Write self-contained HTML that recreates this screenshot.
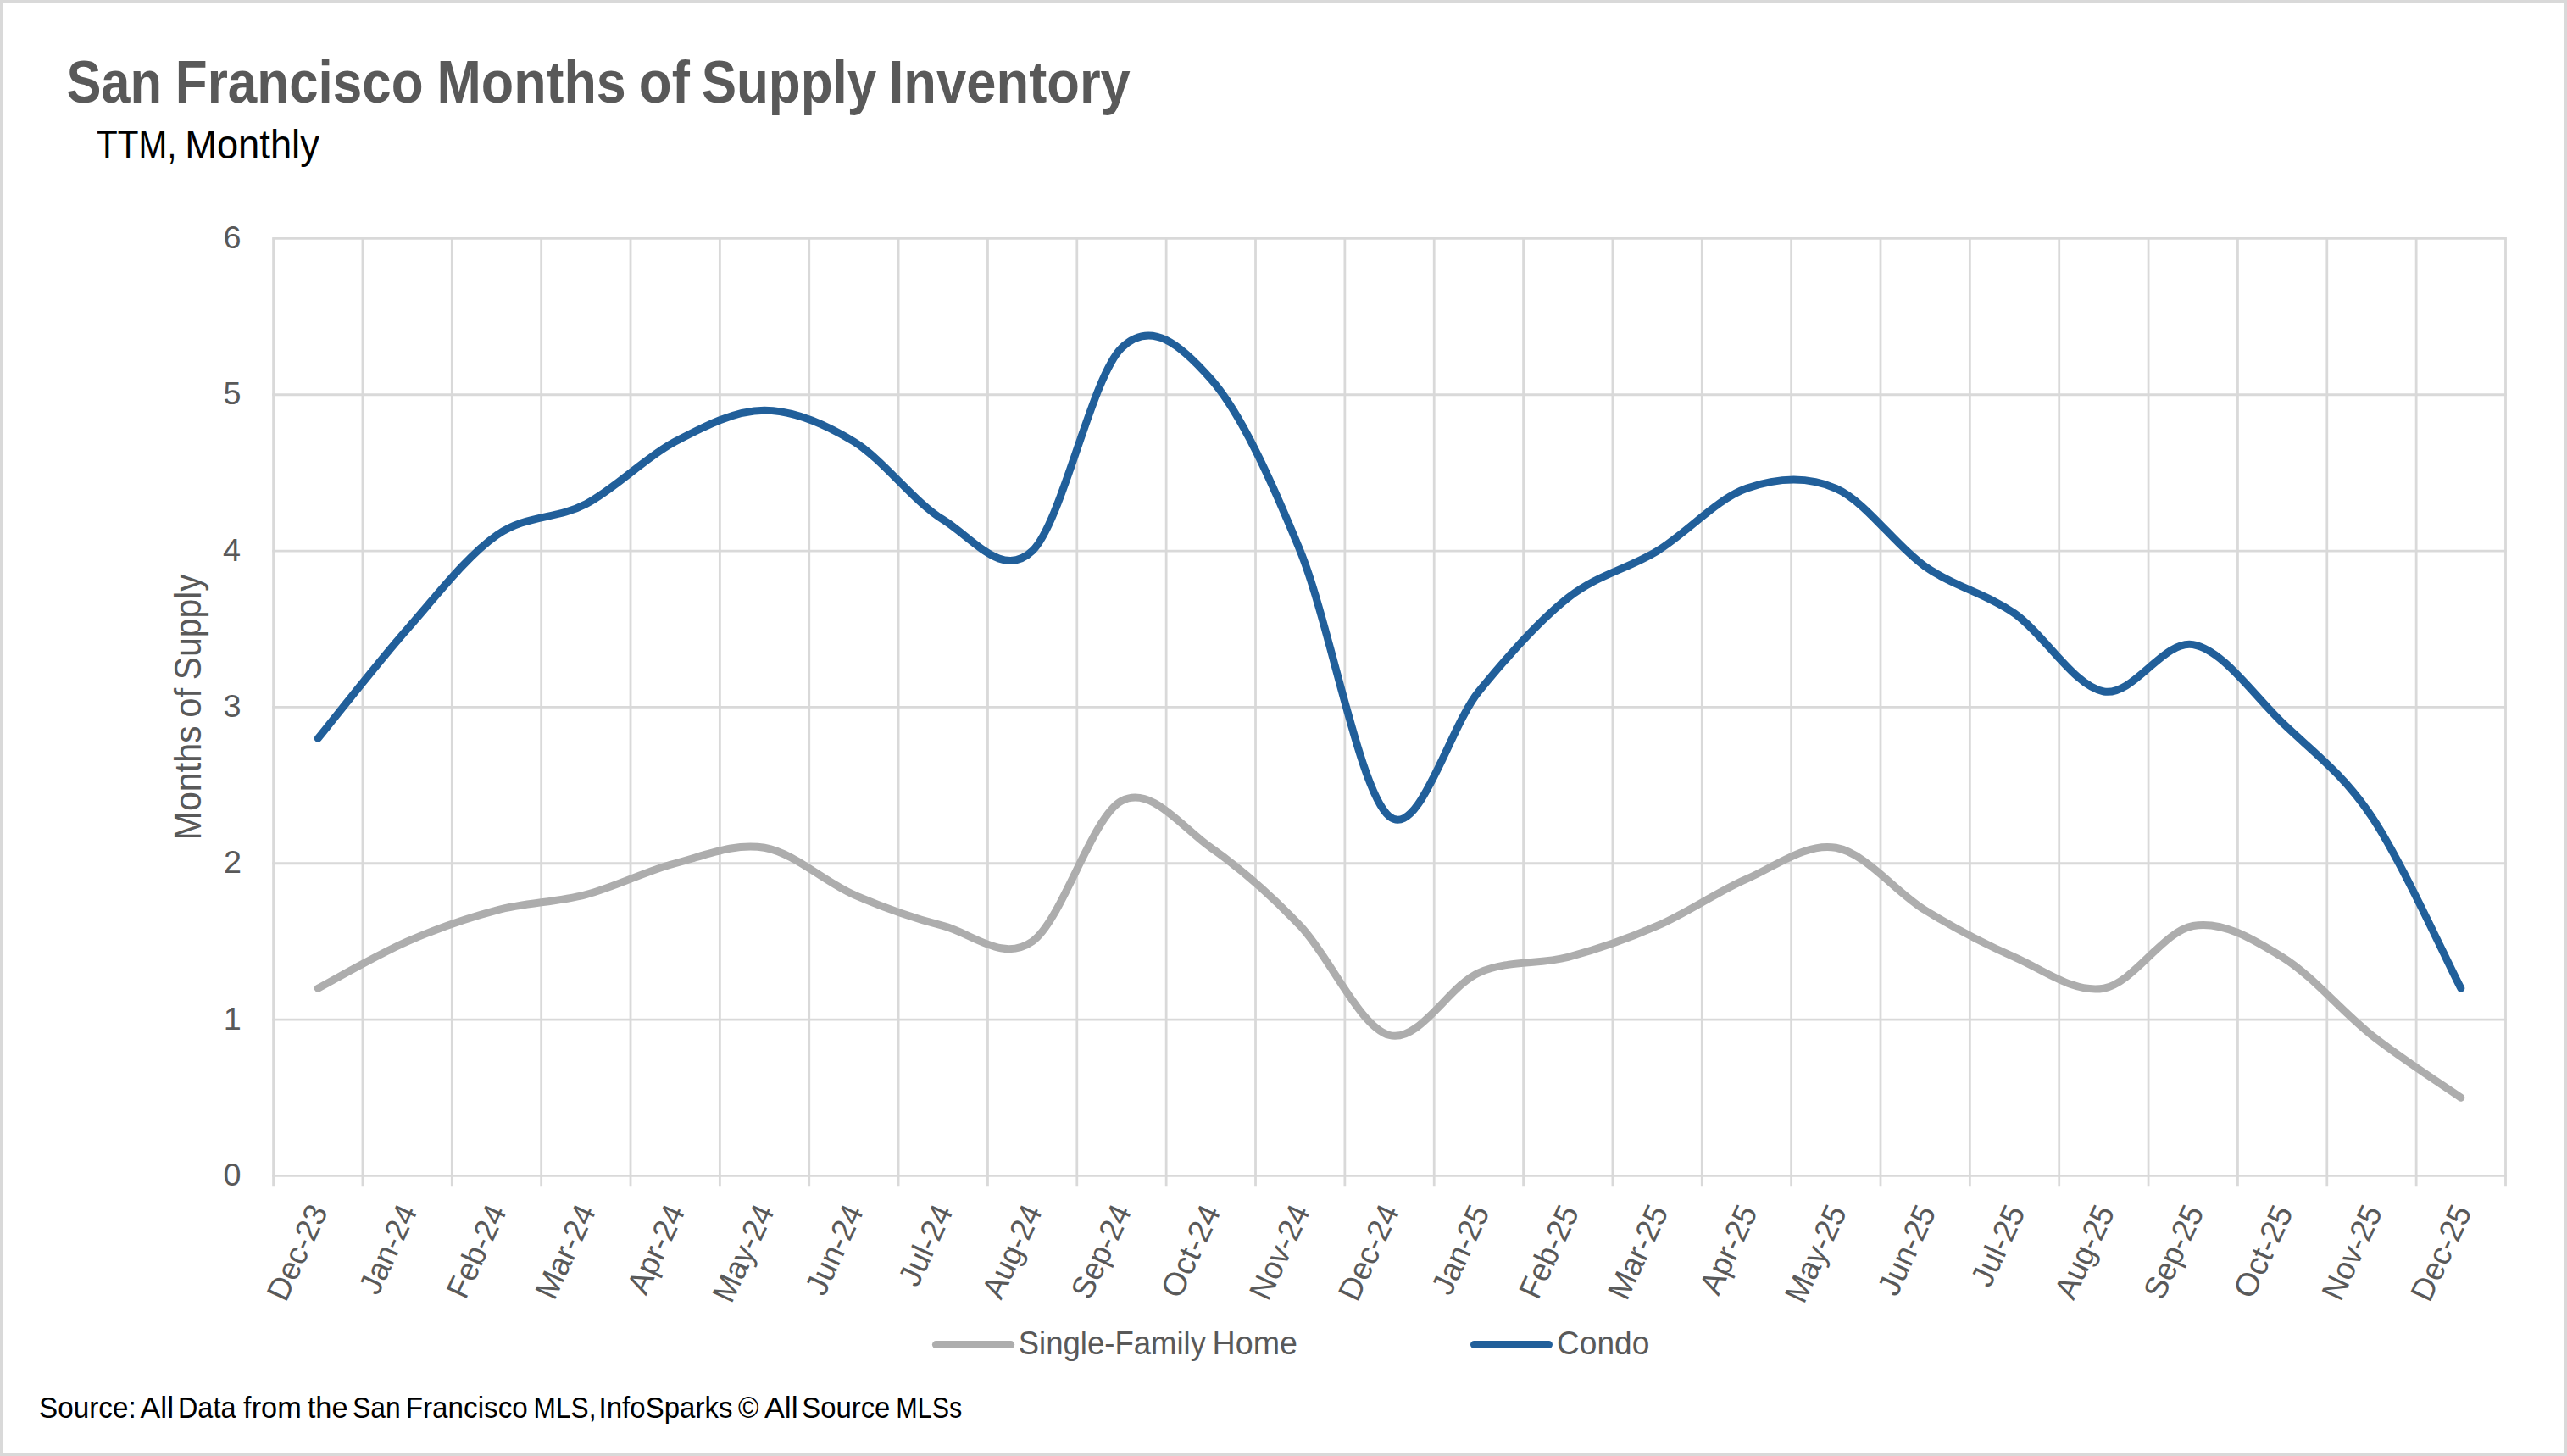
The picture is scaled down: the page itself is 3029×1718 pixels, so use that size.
<!DOCTYPE html>
<html lang="en"><head><meta charset="utf-8"><title>San Francisco Months of Supply Inventory</title>
<style>html,body{margin:0;padding:0;background:#fff;}body{width:3029px;height:1718px;overflow:hidden;}svg{display:block;font-family:"Liberation Sans",sans-serif;}</style></head><body>
<svg width="3029" height="1718" viewBox="0 0 3029 1718">
<rect x="0" y="0" width="3029" height="1718" fill="#fff"/>
<rect x="1.5" y="1.5" width="3026" height="1715" fill="none" stroke="#D9D9D9" stroke-width="3"/>
<g stroke="#D9D9D9" stroke-width="2.8" fill="none">
<line x1="321.20" y1="1387.40" x2="2957.90" y2="1387.40"/>
<line x1="321.20" y1="1203.07" x2="2957.90" y2="1203.07"/>
<line x1="321.20" y1="1018.73" x2="2957.90" y2="1018.73"/>
<line x1="321.20" y1="834.40" x2="2957.90" y2="834.40"/>
<line x1="321.20" y1="650.07" x2="2957.90" y2="650.07"/>
<line x1="321.20" y1="465.73" x2="2957.90" y2="465.73"/>
<line x1="321.20" y1="281.40" x2="2957.90" y2="281.40"/>
<line x1="322.60" y1="281.40" x2="322.60" y2="1400.20"/>
<line x1="427.96" y1="281.40" x2="427.96" y2="1400.20"/>
<line x1="533.31" y1="281.40" x2="533.31" y2="1400.20"/>
<line x1="638.67" y1="281.40" x2="638.67" y2="1400.20"/>
<line x1="744.02" y1="281.40" x2="744.02" y2="1400.20"/>
<line x1="849.38" y1="281.40" x2="849.38" y2="1400.20"/>
<line x1="954.74" y1="281.40" x2="954.74" y2="1400.20"/>
<line x1="1060.09" y1="281.40" x2="1060.09" y2="1400.20"/>
<line x1="1165.45" y1="281.40" x2="1165.45" y2="1400.20"/>
<line x1="1270.80" y1="281.40" x2="1270.80" y2="1400.20"/>
<line x1="1376.16" y1="281.40" x2="1376.16" y2="1400.20"/>
<line x1="1481.52" y1="281.40" x2="1481.52" y2="1400.20"/>
<line x1="1586.87" y1="281.40" x2="1586.87" y2="1400.20"/>
<line x1="1692.23" y1="281.40" x2="1692.23" y2="1400.20"/>
<line x1="1797.58" y1="281.40" x2="1797.58" y2="1400.20"/>
<line x1="1902.94" y1="281.40" x2="1902.94" y2="1400.20"/>
<line x1="2008.30" y1="281.40" x2="2008.30" y2="1400.20"/>
<line x1="2113.65" y1="281.40" x2="2113.65" y2="1400.20"/>
<line x1="2219.01" y1="281.40" x2="2219.01" y2="1400.20"/>
<line x1="2324.36" y1="281.40" x2="2324.36" y2="1400.20"/>
<line x1="2429.72" y1="281.40" x2="2429.72" y2="1400.20"/>
<line x1="2535.08" y1="281.40" x2="2535.08" y2="1400.20"/>
<line x1="2640.43" y1="281.40" x2="2640.43" y2="1400.20"/>
<line x1="2745.79" y1="281.40" x2="2745.79" y2="1400.20"/>
<line x1="2851.14" y1="281.40" x2="2851.14" y2="1400.20"/>
<line x1="2956.50" y1="281.40" x2="2956.50" y2="1400.20"/>
</g>
<path d="M375.28,1166.20 C392.84,1156.98 445.52,1126.26 480.63,1110.90 C515.75,1095.54 550.87,1083.25 585.99,1074.03 C621.11,1064.82 656.23,1064.82 691.35,1055.60 C726.46,1046.38 761.58,1027.95 796.70,1018.73 C831.82,1009.52 866.94,994.16 902.06,1000.30 C937.18,1006.44 972.30,1040.24 1007.41,1055.60 C1042.53,1070.96 1077.65,1083.25 1112.77,1092.47 C1147.89,1101.68 1183.01,1135.48 1218.13,1110.90 C1253.24,1086.32 1288.36,963.43 1323.48,945.00 C1358.60,926.57 1393.72,975.72 1428.84,1000.30 C1463.96,1024.88 1499.08,1055.60 1534.19,1092.47 C1569.31,1129.33 1604.43,1212.28 1639.55,1221.50 C1674.67,1230.72 1709.79,1163.13 1744.91,1147.77 C1780.02,1132.41 1815.14,1138.55 1850.26,1129.33 C1885.38,1120.12 1920.50,1107.83 1955.62,1092.47 C1990.74,1077.11 2025.86,1052.53 2060.97,1037.17 C2096.09,1021.81 2131.21,994.16 2166.33,1000.30 C2201.45,1006.44 2236.57,1052.53 2271.69,1074.03 C2306.80,1095.54 2341.92,1113.97 2377.04,1129.33 C2412.16,1144.69 2447.28,1172.34 2482.40,1166.20 C2517.52,1160.06 2552.64,1098.61 2587.75,1092.47 C2622.87,1086.32 2657.99,1107.83 2693.11,1129.33 C2728.23,1150.84 2763.35,1193.85 2798.47,1221.50 C2833.58,1249.15 2886.26,1282.94 2903.82,1295.23" fill="none" stroke="#ADADAD" stroke-width="9" stroke-linecap="round" stroke-linejoin="round"/>
<path d="M375.28,871.27 C392.84,849.76 445.52,782.17 480.63,742.23 C515.75,702.29 550.87,656.21 585.99,631.63 C621.11,607.06 656.23,613.20 691.35,594.77 C726.46,576.33 761.58,539.47 796.70,521.03 C831.82,502.60 866.94,484.17 902.06,484.17 C937.18,484.17 972.30,499.53 1007.41,521.03 C1042.53,542.54 1077.65,591.69 1112.77,613.20 C1147.89,634.71 1183.01,683.86 1218.13,650.07 C1253.24,616.27 1288.36,444.23 1323.48,410.43 C1358.60,376.64 1393.72,407.36 1428.84,447.30 C1463.96,487.24 1499.08,564.04 1534.19,650.07 C1569.31,736.09 1604.43,935.78 1639.55,963.43 C1674.67,991.08 1709.79,858.98 1744.91,815.97 C1780.02,772.96 1815.14,733.02 1850.26,705.37 C1885.38,677.72 1920.50,671.57 1955.62,650.07 C1990.74,628.56 2025.86,588.62 2060.97,576.33 C2096.09,564.04 2131.21,560.97 2166.33,576.33 C2201.45,591.69 2236.57,643.92 2271.69,668.50 C2306.80,693.08 2341.92,699.22 2377.04,723.80 C2412.16,748.38 2447.28,809.82 2482.40,815.97 C2517.52,822.11 2552.64,754.52 2587.75,760.67 C2622.87,766.81 2657.99,819.04 2693.11,852.83 C2728.23,886.63 2763.35,911.21 2798.47,963.43 C2833.58,1015.66 2886.26,1132.41 2903.82,1166.20" fill="none" stroke="#215F9A" stroke-width="9" stroke-linecap="round" stroke-linejoin="round"/>
<g>
<text transform="translate(78.38,121.00) scale(0.8766,1)" font-size="70.06" font-weight="bold" fill="#595959">San</text>
<text transform="translate(206.81,121.00) scale(0.8850,1)" font-size="70.06" font-weight="bold" fill="#595959">Francisco</text>
<text transform="translate(515.45,121.00) scale(0.8968,1)" font-size="70.06" font-weight="bold" fill="#595959">Months</text>
<text transform="translate(753.82,121.00) scale(0.9081,1)" font-size="70.06" font-weight="bold" fill="#595959">of</text>
<text transform="translate(827.66,121.00) scale(0.8850,1)" font-size="70.06" font-weight="bold" fill="#595959">Supply</text>
<text transform="translate(1048.72,121.00) scale(0.9044,1)" font-size="70.06" font-weight="bold" fill="#595959">Inventory</text>
</g>
<g>
<text transform="translate(114.11,187.30) scale(0.8516,1)" font-size="47.53" fill="#000">TTM,</text>
<text transform="translate(218.19,187.30) scale(0.9532,1)" font-size="47.53" fill="#000">Monthly</text>
</g>
<text x="263.42" y="1398.90" font-size="37.79" fill="#595959">0</text>
<text x="263.80" y="1214.57" font-size="37.79" fill="#595959">1</text>
<text x="263.88" y="1030.23" font-size="37.79" fill="#595959">2</text>
<text x="263.61" y="845.90" font-size="37.79" fill="#595959">3</text>
<text x="263.08" y="661.57" font-size="37.79" fill="#595959">4</text>
<text x="263.54" y="477.23" font-size="37.79" fill="#595959">5</text>
<text x="263.61" y="292.90" font-size="37.79" fill="#595959">6</text>
<g>
<text transform="translate(236.5,988.00) rotate(-90) translate(-3.38,0) scale(0.9478,1)" font-size="43.46" fill="#595959">Months</text>
<text transform="translate(236.5,845.00) rotate(-90) translate(-1.76,0) scale(0.9650,1)" font-size="43.46" fill="#595959">of</text>
<text transform="translate(236.5,800.40) rotate(-90) translate(-1.84,0) scale(0.9407,1)" font-size="43.46" fill="#595959">Supply</text>
</g>
<g font-size="37.79" fill="#595959" text-anchor="end">
<text transform="translate(387.58,1429.20) rotate(-65) scale(0.980,1)">Dec-23</text>
<text transform="translate(492.93,1429.20) rotate(-65) scale(0.961,1)">Jan-24</text>
<text transform="translate(598.29,1429.20) rotate(-65) scale(0.970,1)">Feb-24</text>
<text transform="translate(703.65,1429.20) rotate(-65) scale(0.980,1)">Mar-24</text>
<text transform="translate(809.00,1429.20) rotate(-65) scale(0.977,1)">Apr-24</text>
<text transform="translate(914.36,1429.20) rotate(-65) scale(0.964,1)">May-24</text>
<text transform="translate(1019.71,1429.20) rotate(-65) scale(0.969,1)">Jun-24</text>
<text transform="translate(1125.07,1429.20) rotate(-65) scale(0.977,1)">Jul-24</text>
<text transform="translate(1230.43,1429.20) rotate(-65) scale(0.955,1)">Aug-24</text>
<text transform="translate(1335.78,1429.20) rotate(-65) scale(0.961,1)">Sep-24</text>
<text transform="translate(1441.14,1429.20) rotate(-65) scale(1.020,1)">Oct-24</text>
<text transform="translate(1546.49,1429.20) rotate(-65) scale(0.973,1)">Nov-24</text>
<text transform="translate(1651.85,1429.20) rotate(-65) scale(0.980,1)">Dec-24</text>
<text transform="translate(1758.41,1429.70) rotate(-65) scale(0.961,1)">Jan-25</text>
<text transform="translate(1863.76,1429.70) rotate(-65) scale(0.970,1)">Feb-25</text>
<text transform="translate(1969.12,1429.70) rotate(-65) scale(0.980,1)">Mar-25</text>
<text transform="translate(2074.47,1429.70) rotate(-65) scale(0.977,1)">Apr-25</text>
<text transform="translate(2179.83,1429.70) rotate(-65) scale(0.964,1)">May-25</text>
<text transform="translate(2285.19,1429.70) rotate(-65) scale(0.969,1)">Jun-25</text>
<text transform="translate(2390.54,1429.70) rotate(-65) scale(0.977,1)">Jul-25</text>
<text transform="translate(2495.90,1429.70) rotate(-65) scale(0.955,1)">Aug-25</text>
<text transform="translate(2601.25,1429.70) rotate(-65) scale(0.961,1)">Sep-25</text>
<text transform="translate(2706.61,1429.70) rotate(-65) scale(1.020,1)">Oct-25</text>
<text transform="translate(2811.97,1429.70) rotate(-65) scale(0.973,1)">Nov-25</text>
<text transform="translate(2917.32,1429.70) rotate(-65) scale(0.980,1)">Dec-25</text>
</g>
<line x1="1104.4" y1="1586.6" x2="1192.7" y2="1586.6" stroke="#ADADAD" stroke-width="9" stroke-linecap="round"/>
<g>
<text transform="translate(1201.65,1598.00) scale(0.9599,1)" font-size="38.08" fill="#595959">Single-Family</text>
<text transform="translate(1430.61,1598.00) scale(0.9890,1)" font-size="38.08" fill="#595959">Home</text>
</g>
<line x1="1739.5" y1="1586.5" x2="1827.5" y2="1586.5" stroke="#215F9A" stroke-width="9" stroke-linecap="round"/>
<text transform="translate(1837.05,1598.00) scale(0.9737,1)" font-size="38.08" fill="#595959">Condo</text>
<g>
<text transform="translate(46.10,1672.80) scale(0.9457,1)" font-size="35.17" fill="#000">Source:</text>
<text transform="translate(165.53,1672.80) scale(1.0140,1)" font-size="35.17" fill="#000">All</text>
<text transform="translate(209.94,1672.80) scale(0.9225,1)" font-size="35.17" fill="#000">Data</text>
<text transform="translate(287.12,1672.80) scale(0.9753,1)" font-size="35.17" fill="#000">from</text>
<text transform="translate(362.78,1672.80) scale(0.9783,1)" font-size="35.17" fill="#000">the</text>
<text transform="translate(416.07,1672.80) scale(0.9040,1)" font-size="35.17" fill="#000">San</text>
<text transform="translate(478.67,1672.80) scale(0.9459,1)" font-size="35.17" fill="#000">Francisco</text>
<text transform="translate(629.50,1672.80) scale(0.9008,1)" font-size="35.17" fill="#000">MLS,</text>
<text transform="translate(706.56,1672.80) scale(0.9393,1)" font-size="35.17" fill="#000">InfoSparks</text>
<text transform="translate(871.11,1672.80) scale(0.9369,1)" font-size="35.17" fill="#000">©</text>
<text transform="translate(902.03,1672.80) scale(1.0167,1)" font-size="35.17" fill="#000">All</text>
<text transform="translate(946.32,1672.80) scale(0.9344,1)" font-size="35.17" fill="#000">Source</text>
<text transform="translate(1057.30,1672.80) scale(0.8676,1)" font-size="35.17" fill="#000">MLSs</text>
</g>
</svg></body></html>
